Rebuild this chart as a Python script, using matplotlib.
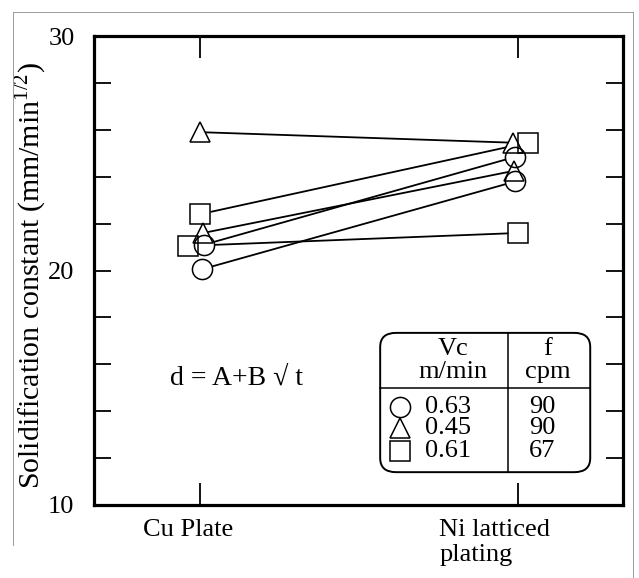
"""
Solidification constant: Cu plate vs. Ni latticed plating
=========================================================
Paired measurements for three casting conditions (Vc, f), each run twice.
Lines join the same run on the two mould surfaces.
"""

import matplotlib

matplotlib.use("Agg")

import matplotlib.pyplot as plt
from matplotlib.lines import Line2D
from matplotlib.patches import FancyBboxPatch
from matplotlib.transforms import ScaledTranslation

plt.rcParams["font.family"] = ["Liberation Serif", "DejaVu Serif"]
plt.rcParams["mathtext.fontset"] = "custom"
plt.rcParams["mathtext.rm"] = "Liberation Serif"

# ============================================================
# DATA
# ============================================================
CATEGORIES = ["Cu Plate", "Ni latticed\nplating"]

# two runs per condition: value on Cu plate -> value on Ni plating
CIRCLE_CU = [20.05, 21.1]
CIRCLE_NI = [23.8, 24.85]
TRIANGLE_CU = [25.9, 21.6]
TRIANGLE_NI = [25.45, 24.25]
SQUARE_CU = [22.4, 21.05]
SQUARE_NI = [25.45, 21.6]

# legend table
LEGEND_MARKERS = ["o", "^", "s"]
VC_M_MIN = ["0.63", "0.45", "0.61"]
F_CPM = ["90", "90", "67"]

EQUATION = "d = A+B \u221A t"

# small horizontal nudges so overlapping symbols stay visible (not data)
SHIFT_CU = {"o": [0.006, 0.013], "^": [0.0, 0.01], "s": [0.0, -0.038]}
SHIFT_NI = {"o": [-0.008, -0.008], "^": [-0.016, -0.013], "s": [0.03, 0.0]}

FONT = 19
MS = 14.5


def draw_series(ax, marker, cu_vals, ni_vals):
    for i, (cu, ni) in enumerate(zip(cu_vals, ni_vals)):
        xs = [0 + SHIFT_CU[marker][i], 1 + SHIFT_NI[marker][i]]
        ys = [cu, ni]
        ax.plot(xs, ys, color="black", linewidth=1.3, zorder=2)
        # white blob hides the line inside the symbol, outline drawn on top
        ax.plot(xs, ys, linestyle="none", marker=marker, markersize=MS,
                markerfacecolor="white", markeredgecolor="none", zorder=3)
        ax.plot(xs, ys, linestyle="none", marker=marker, markersize=MS,
                markerfacecolor="none", markeredgecolor="black",
                markeredgewidth=1.1, zorder=4)


def draw_legend_table(ax):
    tr = ax.transAxes
    x0, x1, y0, y1 = 0.541, 0.938, 0.070, 0.367
    xdiv, ydiv = 0.783, 0.249
    box = FancyBboxPatch((x0, y0), x1 - x0, y1 - y0,
                         boxstyle="round,pad=0,rounding_size=0.03",
                         transform=tr, facecolor="white", edgecolor="black",
                         linewidth=1.4, zorder=5)
    ax.add_patch(box)
    ax.add_line(Line2D([xdiv, xdiv], [y0, y1], transform=tr, color="black",
                       linewidth=1.1, zorder=6))
    ax.add_line(Line2D([x0, x1], [ydiv, ydiv], transform=tr, color="black",
                       linewidth=1.1, zorder=6))

    kw = dict(transform=tr, ha="center", va="center", fontsize=FONT, zorder=7)
    ax.text(0.679, 0.333, "Vc", **kw)
    ax.text(0.679, 0.283, "m/min", **kw)
    ax.text(0.858, 0.333, "f", **kw)
    ax.text(0.858, 0.283, "cpm", **kw)

    rows_y = [0.209, 0.164, 0.115]
    for y, m, vc, f in zip(rows_y, LEGEND_MARKERS, VC_M_MIN, F_CPM):
        ax.plot([0.578], [y], transform=tr, marker=m, markersize=MS,
                markerfacecolor="none", markeredgecolor="black",
                markeredgewidth=1.1, linestyle="none", clip_on=False, zorder=7)
        ax.text(0.669, y, vc, **kw)
        ax.text(0.847, y, f, **kw)


def main():
    fig = plt.figure(figsize=(6.39, 5.78), dpi=100)
    ax = fig.add_axes([0.147, 0.1263, 0.828, 0.8114])

    draw_series(ax, "o", CIRCLE_CU, CIRCLE_NI)
    draw_series(ax, "^", TRIANGLE_CU, TRIANGLE_NI)
    draw_series(ax, "s", SQUARE_CU, SQUARE_NI)

    ax.set_xlim(-0.333, 1.330)
    ax.set_ylim(10, 30)

    for side in ax.spines.values():
        side.set_linewidth(2.3)

    ax.set_yticks([10, 20, 30])
    ax.set_yticks(range(12, 30, 2), minor=True)
    ax.tick_params(axis="y", which="both", direction="in", left=True,
                   right=True, length=12, width=1.3, labelsize=FONT, pad=14)

    ax.set_xticks([0, 1])
    ax.set_xticklabels(CATEGORIES)
    ax.tick_params(axis="x", direction="in", top=True, bottom=True,
                   length=16, width=1.3, labelsize=FONT, pad=10)
    lab_cu, lab_ni = ax.get_xticklabels()
    lab_cu.set_transform(lab_cu.get_transform()
                         + ScaledTranslation(-0.12, 0, fig.dpi_scale_trans))
    lab_ni.set_horizontalalignment("left")
    lab_ni.set_multialignment("left")
    lab_ni.set_transform(lab_ni.get_transform()
                         + ScaledTranslation(-0.79, 0, fig.dpi_scale_trans))

    ax.set_ylabel(r"Solidification constant (mm/min$^{\mathrm{1/2}}$)",
                  fontsize=21.5)
    ax.yaxis.set_label_coords(-0.084, 0.49)

    ax.text(0.144, 0.271, EQUATION, transform=ax.transAxes, fontsize=20,
            ha="left", va="center")

    draw_legend_table(ax)

    # faint edge of the scanned page
    W, H = 639, 578
    page = dict(transform=fig.transFigure, color="#9a9a9a", linewidth=0.7)
    fig.add_artist(Line2D([13 / W, 633 / W], [1 - 12 / H, 1 - 12 / H], **page))
    fig.add_artist(Line2D([13 / W, 13 / W], [1 - 12 / H, 1 - 545 / H], **page))
    fig.add_artist(Line2D([633 / W, 633 / W], [1 - 12 / H, 0], **page))

    fig.savefig("out.png", dpi=100)
    plt.close(fig)


if __name__ == "__main__":
    main()
